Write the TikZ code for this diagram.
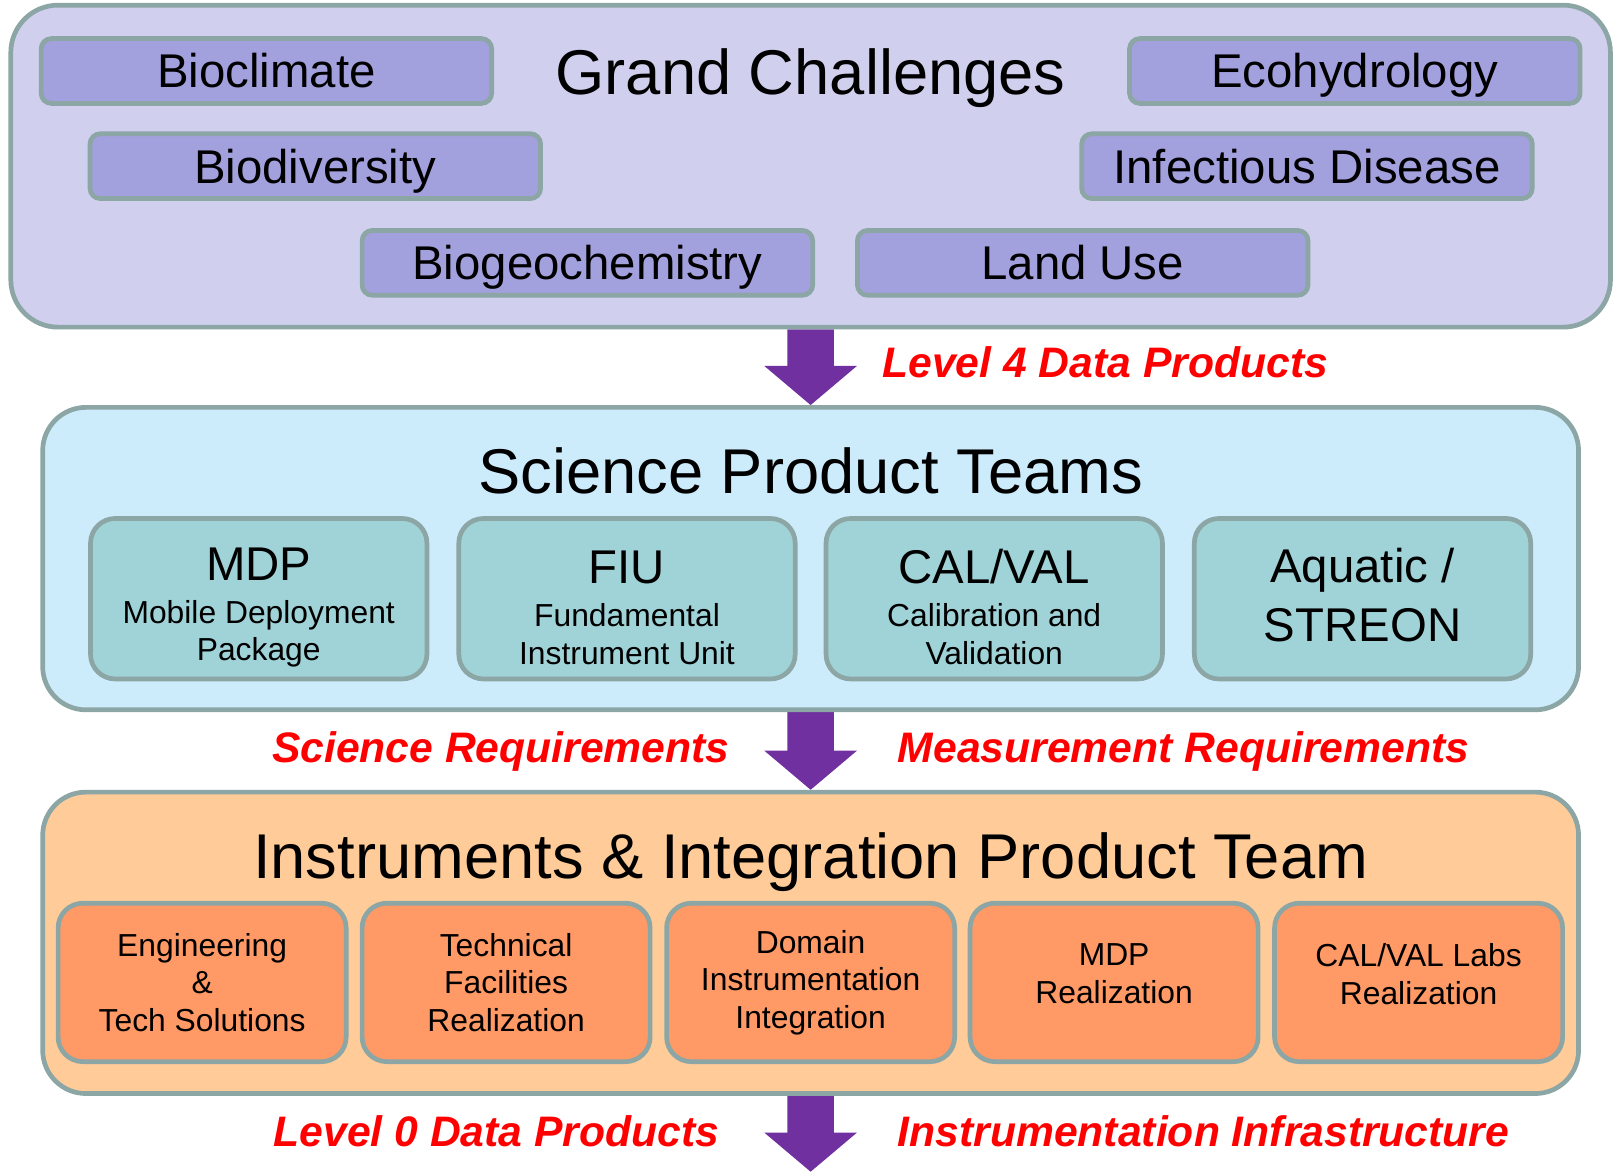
\documentclass[tikz,border=0pt]{standalone}
\usepackage{fontspec}
\setmainfont{Liberation Sans}
\usetikzlibrary{calc,backgrounds}

\definecolor{rimgray}{RGB}{140,165,165}
\definecolor{gcback}{RGB}{208,208,238}
\definecolor{gcfill}{RGB}{163,160,222}
\definecolor{sptback}{RGB}{204,236,252}
\definecolor{sptfill}{RGB}{160,211,216}
\definecolor{iptback}{RGB}{255,204,153}
\definecolor{iptfill}{RGB}{255,153,102}
\definecolor{arrowpurple}{RGB}{112,48,160}

\newcommand{\bigfont}{\fontsize{17.5}{21}\selectfont}
\newcommand{\midfont}{\fontsize{13.1}{16.2}\selectfont}
\newcommand{\smallfont}{\fontsize{8.8}{10.4}\selectfont}
\newcommand{\redfont}{\fontsize{11.8}{14}\selectfont\bfseries\itshape}
% first line of a team box, a bit taller so the text sits lower
\newcommand{\teamname}[1]{{\midfont\rule{0pt}{14pt}#1}}
% block arrow from one panel to the next
\newcommand{\downblock}[2]{\fill[bigarrow] ($(#1)+(-0.225,0)$) -- ($(#1)+(0.225,0)$)
  -- ($(#2)+(0.225,0.38)$) -- ($(#2)+(0.45,0.38)$) -- (#2)
  -- ($(#2)+(-0.45,0.38)$) -- ($(#2)+(-0.225,0.38)$) -- cycle;}

\tikzset{
  panel/.style={draw=rimgray, line width=1.3pt, rounded corners=0.42cm,
    minimum width=14.93cm, minimum height=2.93cm, inner sep=0pt},
  gcbox/.style={draw=rimgray, line width=1.3pt, fill=gcfill, rounded corners=0.1cm,
    minimum width=4.38cm, minimum height=0.63cm, inner sep=0pt,
    font=\midfont, text height=9.4pt, text depth=0pt},
  teambox/.style={draw=rimgray, line width=1.3pt, fill=sptfill, rounded corners=0.24cm,
    minimum width=3.27cm, minimum height=1.56cm, inner sep=0pt,
    align=center, font=\smallfont},
  ipbox/.style={draw=rimgray, line width=1.3pt, fill=iptfill, rounded corners=0.24cm,
    minimum width=2.80cm, minimum height=1.54cm, inner sep=0pt,
    align=center, font=\smallfont},
  title/.style={font=\bigfont, anchor=base, inner sep=0pt},
  flowlabel/.style={text=red, font=\redfont, inner sep=0pt},
  bigarrow/.style={fill=arrowpurple}
}

\begin{document}
\begin{tikzpicture}
    \useasboundingbox (0,0) rectangle (15.68,-11.39);

    % grand challenges
    \node[panel, fill=gcback, minimum width=15.55cm, minimum height=3.13cm,
      rounded corners=0.46cm] (gc) at (7.88,-1.615) {};
    \node[title] (gctitle) at (7.88,-0.92) {Grand Challenges};
    \node[gcbox] (bioclim) at (2.59,-0.69) {Bioclimate};
    \node[gcbox] (biodiv) at (3.065,-1.615) {Biodiversity};
    \node[gcbox] (biogeo) at (5.71,-2.555) {Biogeochemistry};
    \node[gcbox] (landuse) at (10.525,-2.555) {Land Use};
    \node[gcbox] (ecohyd) at (13.17,-0.69) {Ecohydrology};
    \node[gcbox] (infect) at (12.705,-1.615) {Infectious Disease};

    % science product teams
    \node[panel, fill=sptback, minimum height=2.94cm] (spt) at (7.88,-5.43) {};
    \node[title] (spttitle) at (7.88,-4.80) {Science Product Teams};
    \node[teambox] (mdp) at (2.515,-5.82)
      {\teamname{MDP}\\[1.4pt]Mobile Deployment\\Package};
    \node[teambox] (fiu) at (6.095,-5.82)
      {\teamname{FIU}\\[1.4pt]Fundamental\\Instrument Unit};
    \node[teambox] (calval) at (9.665,-5.82)
      {\teamname{CAL/VAL}\\[1.4pt]Calibration and\\Validation};
    \node[teambox, font=\midfont, text depth=2.2pt] (aquatic) at (13.245,-5.82)
      {Aquatic /\\STREON};

    % instruments and integration
    \node[panel, fill=iptback] (ipt) at (7.88,-9.165) {};
    \node[title] (ipttitle) at (7.88,-8.54) {Instruments \& Integration Product Team};
    \node[ipbox] (engsol) at (1.965,-9.55) {Engineering\\\&\\Tech Solutions};
    \node[ipbox] (techfac) at (4.92,-9.55) {Technical\\Facilities\\Realization};
    \node[ipbox] (domain) at (7.88,-9.55) {Domain\\Instrumentation\\Integration};
    \node[ipbox, text depth=4.8pt] (mdpreal) at (10.83,-9.55) {MDP\\Realization};
    \node[ipbox, text depth=4.8pt] (calreal) at (13.79,-9.55) {CAL/VAL Labs\\Realization};

    \coordinate (bottomend) at (7.88,-11.39);

    % arrows and what flows along them
    \begin{pgfonlayer}{background}
        \downblock{gc.south}{spt.north}
        \downblock{spt.south}{ipt.north}
        \downblock{ipt.south}{bottomend}
    \end{pgfonlayer}
    \node[flowlabel, anchor=base west] (lvl4) at (8.57,-3.67) {Level 4 Data Products};
    \node[flowlabel, anchor=base east] (scireq) at (7.10,-7.41) {Science Requirements};
    \node[flowlabel, anchor=base west] (measreq) at (8.72,-7.41) {Measurement Requirements};
    \node[flowlabel, anchor=base east] (lvl0) at (7.00,-11.14) {Level 0 Data Products};
    \node[flowlabel, anchor=base west] (instinf) at (8.72,-11.14) {Instrumentation Infrastructure};
\end{tikzpicture}
\end{document}
